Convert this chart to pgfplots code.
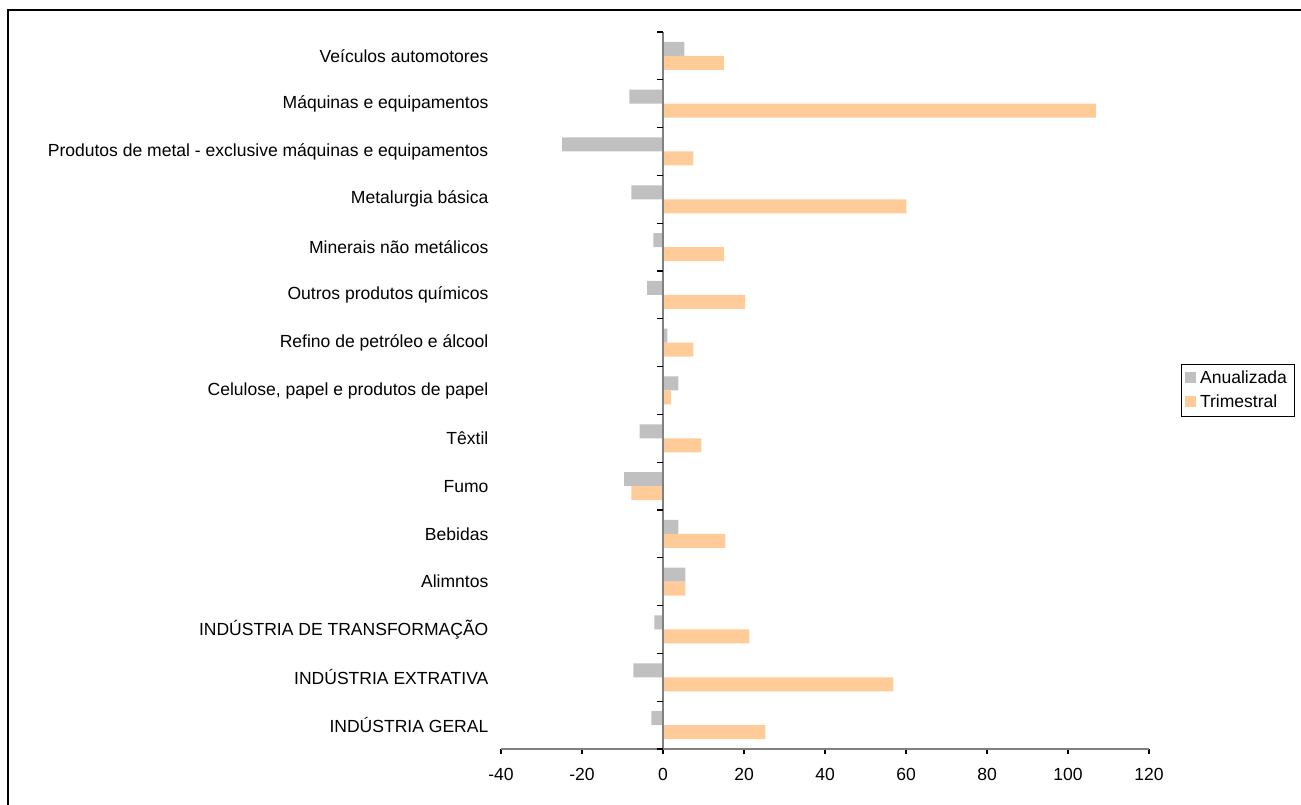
\documentclass[border=0pt]{standalone}
\usepackage{pgfplots}
\pgfplotsset{compat=1.18}
\usepackage{fontspec}
\setmainfont{Liberation Sans}
\definecolor{anual}{HTML}{C0C0C0}
\definecolor{trim}{HTML}{FFCC99}
\definecolor{axgray}{HTML}{808080}
\begin{document}
\begin{tikzpicture}[x=1bp,y=1bp]
\useasboundingbox (0bp,0bp) rectangle (650.5bp,402.5bp);
\draw[line width=1.1bp] (4.15bp,-10bp) rectangle (660bp,397.35bp);
\begin{axis}[
  at={(250.5bp,28bp)}, anchor=south west,
  scale only axis, width=324bp, height=358.5bp,
  xmin=-40, xmax=120, ymin=-0.5, ymax=14.5,
  xbar, bar width=7bp,
  axis x line*=bottom, axis y line*=left,
  x axis line style={-, axgray, line width=0.8bp},
  y axis line style={draw=none},
  xtick={-40,-20,...,120},
  ytick={0,...,14},
  yticklabels={IND\'USTRIA GERAL, IND\'USTRIA EXTRATIVA, IND\'USTRIA DE TRANSFORMA\c{C}\~AO, Alimntos, Bebidas, Fumo, T\^extil, {Celulose, papel e produtos de papel}, Refino de petr\'oleo e \'alcool, Outros produtos qu\'imicos, Minerais n\~ao met\'alicos, Metalurgia b\'asica, Produtos de metal - exclusive m\'aquinas e equipamentos, M\'aquinas e equipamentos, Ve\'iculos automotores},
  tick align=outside, major tick length=2.6bp,
  xtick style={black, line width=0.6bp},
  ytick style={draw=none},
  minor tick num=0,
  xticklabel style={font=\fontsize{8.8}{10}\selectfont, yshift=-3.3bp},
  yticklabel style={font=\fontsize{8.8}{10}\selectfont, xshift=-0.2bp},
  /pgf/number format/assume math mode=true,
  legend style={at={(1.049,0.5)}, anchor=west, draw=black, line width=0.5bp,
    font=\fontsize{8.8}{10}\selectfont, inner xsep=2bp, inner ysep=1.2bp, row sep=0.3bp,
    nodes={inner xsep=1.8bp}},
  legend cell align=left,
  legend image code/.code={\fill[#1] (0bp,-2.4bp) rectangle (5.6bp,3.2bp);},
  clip=false,
]
\addplot[fill=anual, draw=none, bar shift=3.5bp] coordinates {
 (-2.9,0) (-7.3,1) (-2.1,2) (5.5,3) (3.8,4) (-9.6,5) (-5.8,6) (3.8,7)
 (1.1,8) (-3.9,9) (-2.4,10) (-7.8,11) (-24.9,12) (-8.3,13) (5.3,14)};
\addlegendentry{Anualizada}
\addplot[fill=trim, draw=none, bar shift=-3.5bp] coordinates {
 (25.3,0) (56.9,1) (21.3,2) (5.5,3) (15.4,4) (-7.8,5) (9.5,6) (2.0,7)
 (7.5,8) (20.3,9) (15.1,10) (60.1,11) (7.5,12) (106.9,13) (15.1,14)};
\addlegendentry{Trimestral}
\draw[axgray, line width=0.9bp] (axis cs:0,-0.5) -- (axis cs:0,14.5);
\pgfplotsinvokeforeach{-0.5,0.5,...,14.5}{\draw[black, line width=0.6bp] (axis cs:0,#1) -- ++(-3bp,0bp);}
\end{axis}
\end{tikzpicture}
\end{document}
